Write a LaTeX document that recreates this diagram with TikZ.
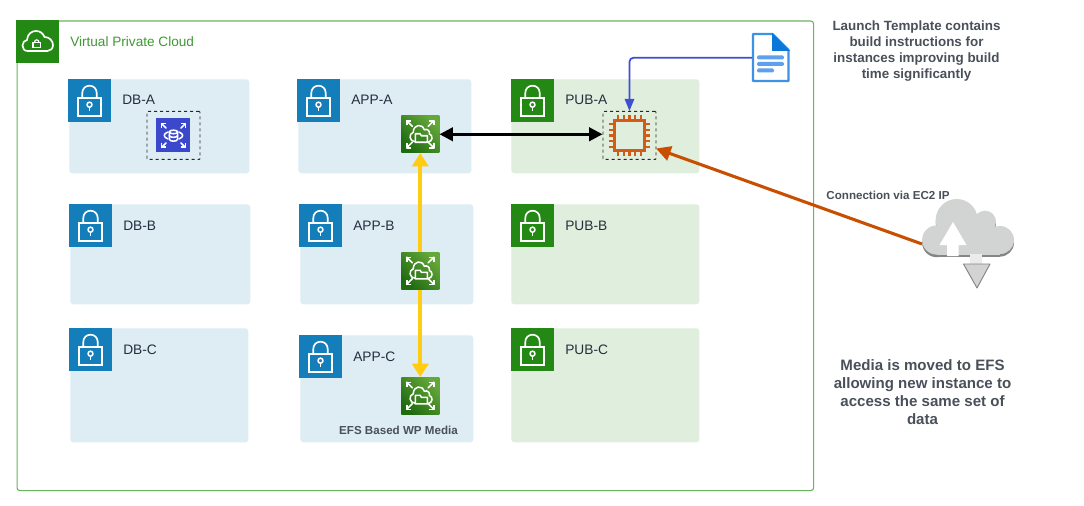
\documentclass[tikz,border=0pt]{standalone}
\usepackage{fontspec}
\setmainfont{Liberation Sans}
\usetikzlibrary{arrows.meta,shapes.geometric}
\definecolor{subblue}{HTML}{DEECF4}
\definecolor{subgreen}{HTML}{E0EEDD}
\definecolor{tileblue}{HTML}{147EBA}
\definecolor{tilegreen}{HTML}{248814}
\definecolor{efsdark}{HTML}{1F6B10}
\definecolor{efslight}{HTML}{65A83A}
\definecolor{vpcline}{HTML}{6AB35F}
\definecolor{vpctext}{HTML}{3F9A33}
\definecolor{labeltext}{HTML}{232F3E}
\definecolor{notetext}{HTML}{4A505A}
\definecolor{orangeline}{HTML}{C94F00}
\definecolor{chipcol}{HTML}{D05C17}
\definecolor{yellowline}{HTML}{FFCC11}
\definecolor{blueline}{HTML}{3F4FD0}
\definecolor{dbblue}{HTML}{3B48CC}
\definecolor{docblue}{HTML}{3D92E6}
\definecolor{docfold}{HTML}{0A78D8}
\definecolor{docline}{HTML}{5EA0EF}
\definecolor{cloudgray}{HTML}{D2D3D3}
\definecolor{cloudshadow}{HTML}{858585}
\tikzset{
  subnet/.style={rectangle,rounded corners=2.25pt,draw=none,anchor=north west,inner sep=0pt},
  tile/.style={rectangle,draw=none,anchor=north west,inner sep=0pt,minimum width=43*0.75pt,minimum height=43*0.75pt},
  sublabel/.style={anchor=west,inner sep=0pt,text=labeltext,font=\fontsize{10.3pt}{12pt}\selectfont},
  smallnote/.style={inner sep=0pt,text=notetext,font=\fontsize{8.7pt}{11pt}\selectfont\bfseries},
  efsbox/.style={rectangle,draw=none,inner sep=0pt,anchor=north west,minimum width=38*0.75pt,minimum height=37*0.75pt,
    top color=efslight,bottom color=efsdark,shading angle=-45},
  dashbox/.style={rectangle,draw=black!85,line width=0.7pt,dash pattern=on 2.25pt off 2.25pt,inner sep=0pt,rounded corners=0.6pt,anchor=north west,minimum width=53*0.75pt,minimum height=48*0.75pt},
  glyph/.style={draw=white,line width=1.15pt,fill=none,line cap=round,line join=round},
  blackconn/.style={draw=black,line width=2.1pt,{Triangle[length=10pt,width=10pt]}-{Triangle[length=10pt,width=10pt]}},
  yellowconn/.style={draw=yellowline,line width=2.7pt},
  orangeconn/.style={draw=orangeline,line width=2.3pt,-{Triangle[length=11pt,width=11pt]}},
  blueconn/.style={draw=blueline,line width=1.3pt,rounded corners=3pt,-{Triangle[length=9pt,width=7pt]}},
  lockicon/.pic={
    \draw[glyph,line width=1.25pt,line cap=butt,line join=miter] (9.7,19) rectangle (33.3,37.3);
    \draw[glyph,line width=1.25pt,line cap=butt] (14.3,19) -- (14.3,14) .. controls (14.3,9.5) and (17.5,6.7) .. (21.5,6.7) .. controls (25.5,6.7) and (28.7,9.5) .. (28.7,14) -- (28.7,19);
    \draw[glyph,line cap=butt] (21.5,25.7) circle[radius=2.5];
    \draw[glyph,line cap=butt] (21.5,28.2) -- (21.5,32);
  },
  efsglyph/.pic={
    \foreach \sx/\sy in {1/1,-1/1,1/-1,-1/-1}{
      \begin{scope}[xscale=\sx,yscale=\sy]
        \draw[glyph] (8,8) -- (13.5,13.5);
        \draw[glyph,line cap=butt] (9,13.5) -- (13.5,13.5) -- (13.5,9);
      \end{scope}}
    \draw[glyph] (-5,7.5) .. controls (-11,7.5) and (-12,-0.5) .. (-7,-2)
      .. controls (-7,-10) and (2,-11) .. (4,-4.5)
      .. controls (7,-6) and (10,-3) .. (9,-0.5)
      .. controls (13,1) and (13,7.5) .. (7,8);
    \draw[glyph,fill=efsdark!60!efslight] (-5,8) -- (-5,-0.5) -- (0,-0.5) -- (1,1.5) -- (7,1.5) -- (7,8) -- cycle;
  },
  dbglyph/.pic={
    \foreach \sx/\sy in {1/1,-1/1,1/-1,-1/-1}{
      \begin{scope}[xscale=\sx,yscale=\sy]
        \draw[glyph] (7.5,7.5) -- (11.8,11.8);
        \draw[glyph,line cap=butt] (7.8,11.8) -- (11.8,11.8) -- (11.8,7.8);
      \end{scope}}
    \draw[glyph] (-5.5,-3.5) .. controls (-10.5,-1.5) and (-10.5,1.5) .. (-5.5,3.5);
    \draw[glyph] (5.5,-3.5) .. controls (10.5,-1.5) and (10.5,1.5) .. (5.5,3.5);
    \draw[glyph] (-4.2,-3.5) -- (-4.2,3.5) .. controls (-4.2,6.5) and (4.2,6.5) .. (4.2,3.5) -- (4.2,-3.5);
    \draw[glyph] (0,-3.5) ellipse[x radius=4.2,y radius=1.8];
    \draw[glyph] (-4.2,0) .. controls (-4.2,2.5) and (4.2,2.5) .. (4.2,0);
  },
  chipglyph/.pic={
    \draw[draw=chipcol,line width=2pt] (-15,-15) rectangle (15,15);
    \foreach \d in {-11.6,-5.8,0,5.8,11.6}{
      \draw[draw=chipcol,line width=1.7pt] (\d,-20.5) -- (\d,-15) (\d,15) -- (\d,20.5) (-20.5,\d) -- (-15,\d) (15,\d) -- (20.5,\d);
    }
  },
  cloudshape/.pic={
    \fill (34.7,21) circle[radius=21];
    \fill (63,22.7) circle[radius=11];
    \fill (78,41) circle[radius=14];
    \fill (14.7,41) circle[radius=14.6];
    \fill (15,29) rectangle (78,55.5);
  }
}
\begin{document}
\begin{tikzpicture}[x=0.75pt,y=-0.75pt]
\useasboundingbox (0,0) rectangle (1084,506);
\fill[white] (0,0) rectangle (1084,506);
% VPC
\node[rectangle,draw=vpcline,line width=0.8pt,rounded corners=2pt,anchor=north west,inner sep=0pt,minimum width=796.5*0.75pt,minimum height=469.5*0.75pt] (vpc) at (16.5,20.5) {};
\node[tile,fill=tilegreen] (vpctile) at (16,20) {};
\draw[white,line width=1.25pt,line join=round] (27.5,51) .. controls (24,51) and (22.5,48) .. (22.5,45.5)
  .. controls (22.5,42.5) and (24.5,40.5) .. (27,40)
  .. controls (27.5,34) and (31.5,31) .. (36,31)
  .. controls (40.5,31) and (43,33.5) .. (44.5,37)
  .. controls (49.5,37) and (53,41) .. (53,45)
  .. controls (53,48.5) and (50.5,51) .. (47.5,51) -- cycle;
\draw[white,line width=0.9pt] (33,42.5) rectangle (40.5,47.5);
\draw[white,line width=0.9pt] (34.5,42.5) .. controls (34.5,39) and (39,39) .. (39,42.5);
\node[anchor=west,inner sep=0pt,text=vpctext,font=\fontsize{10.2pt}{12pt}\selectfont] (vpclabel) at (70,41.5) {Virtual Private Cloud};
% Subnets
\node[subnet,fill=subblue,minimum width=180*0.75pt,minimum height=94*0.75pt] (dba) at (69,79) {};
\node[subnet,fill=subblue,minimum width=180*0.75pt,minimum height=100*0.75pt] (dbb) at (70,204) {};
\node[subnet,fill=subblue,minimum width=178*0.75pt,minimum height=114*0.75pt] (dbc) at (70,328) {};
\node[subnet,fill=subblue,minimum width=173*0.75pt,minimum height=94*0.75pt] (appa) at (298,79) {};
\node[subnet,fill=subblue,minimum width=173*0.75pt,minimum height=100*0.75pt] (appb) at (300,204) {};
\node[subnet,fill=subblue,minimum width=173*0.75pt,minimum height=107*0.75pt] (appc) at (300,335) {};
\node[subnet,fill=subgreen,minimum width=188*0.75pt,minimum height=94*0.75pt] (puba) at (511,79) {};
\node[subnet,fill=subgreen,minimum width=188*0.75pt,minimum height=100*0.75pt] (pubb) at (511,204) {};
\node[subnet,fill=subgreen,minimum width=188*0.75pt,minimum height=114*0.75pt] (pubc) at (511,328) {};
% Lock tiles
\node[tile,fill=tileblue] (tdba) at (68,79) {};
\node[tile,fill=tileblue] (tdbb) at (69,204) {};
\node[tile,fill=tileblue] (tdbc) at (69,328) {};
\node[tile,fill=tileblue] (tappa) at (297,79) {};
\node[tile,fill=tileblue] (tappb) at (299,204) {};
\node[tile,fill=tileblue] (tappc) at (299,335) {};
\node[tile,fill=tilegreen] (tpuba) at (511,79) {};
\node[tile,fill=tilegreen] (tpubb) at (511,204) {};
\node[tile,fill=tilegreen] (tpubc) at (511,328) {};
\foreach \t in {tdba,tdbb,tdbc,tappa,tappb,tappc,tpuba,tpubb,tpubc}{
  \pic at (\t.north west) {lockicon};
}
% Subnet labels
\node[sublabel] (ldba) at (122,100) {DB-A};
\node[sublabel] (ldbb) at (123,225.5) {DB-B};
\node[sublabel] (ldbc) at (123,349.5) {DB-C};
\node[sublabel] (lappa) at (351,100) {APP-A};
\node[sublabel] (lappb) at (353,225.5) {APP-B};
\node[sublabel] (lappc) at (353,356.5) {APP-C};
\node[sublabel] (lpuba) at (565,100) {PUB-A};
\node[sublabel] (lpubb) at (565,225.5) {PUB-B};
\node[sublabel] (lpubc) at (565,349.5) {PUB-C};
% Instance boxes
\node[dashbox] (dbbox) at (146.5,111) {};
\node[rectangle,draw=none,fill=dbblue,inner sep=0pt,minimum width=34*0.75pt,minimum height=34*0.75pt] (dbicon) at (dbbox.center) {};
\pic at (dbicon.center) {dbglyph};
\node[dashbox] (ec2) at (602.5,111) {};
\pic at (ec2.center) {chipglyph};
% Yellow connectors behind EFS icons
\node[efsbox] (efsa) at (401,115.5) {};
\node[efsbox] (efsb) at (401,252) {};
\node[efsbox] (efsc) at (401,377) {};
\draw[yellowconn,{Triangle[length=10pt,width=12pt]}-] (efsa.south) -- (efsb.north);
\draw[yellowconn,-{Triangle[length=10pt,width=12pt]}] (efsb.south) -- (efsc.north);
\foreach \e in {efsa,efsb,efsc}{
  \pic at (\e.center) {efsglyph};
}
% Document
\node[rectangle,draw=none,minimum width=37*0.75pt,minimum height=49*0.75pt,inner sep=0pt,anchor=north west] (doc) at (752,33) {};
\draw[docblue,fill=white,line width=1.6pt,line join=round] (753,34) -- (772.5,34) -- (788.5,50) -- (788.5,81) -- (753,81) -- cycle;
\fill[docfold] (772,33) -- (790,51) -- (772,51) -- cycle;
\fill[rounded corners=1pt,docline] (757,55.5) rectangle (784,59.5);
\fill[rounded corners=1pt,docline] (757,62) rectangle (784,66);
\fill[rounded corners=1pt,docline] (757,68.5) rectangle (774,72.5);
% Connectors
\draw[blackconn] (efsa.east) -- (efsa.east -| ec2.west);
\draw[blueconn] (doc.west) -| (ec2.north);
\coordinate (cloudin) at (922,244);
\coordinate (ec2in) at (656,148.5);
\draw[orangeconn] (cloudin) -- (ec2in);
% Cloud
\node[rectangle,draw=none,minimum width=92*0.75pt,minimum height=56*0.75pt,inner sep=0pt,anchor=north west] (cloud) at (922,199) {};
\pic[cloudshadow] at (922,201.6) {cloudshape};
\pic[cloudgray] at (cloud.north west) {cloudshape};
\fill[white] (953,222) -- (966.5,245) -- (958.5,245) -- (958.5,256) -- (947,256) -- (947,245) -- (939.5,245) -- cycle;
\fill[white!92!black] (970,254) rectangle (982,265);
\draw[cloudshadow,fill=cloudgray,line width=0.7pt,line join=round] (963.5,264) -- (990,264) -- (977,288) -- cycle;
% Notes
\node[smallnote] (noteconn) at (888,195) {Connection via EC2 IP};
\node[smallnote] (noteefs) at (398.5,430) {EFS Based WP Media};
\node[inner sep=0pt,text=notetext,align=center,font=\fontsize{10.05pt}{12pt}\selectfont\bfseries] (notelaunch) at (916.5,51) {Launch Template contains\\build instructions for\\instances improving build\\time significantly};
\node[inner sep=0pt,text=notetext,align=center,font=\fontsize{11.3pt}{13.5pt}\selectfont\bfseries] (notemedia) at (922.5,392) {Media is moved to EFS\\allowing new instance to\\access the same set of\\data};
\end{tikzpicture}
\end{document}
